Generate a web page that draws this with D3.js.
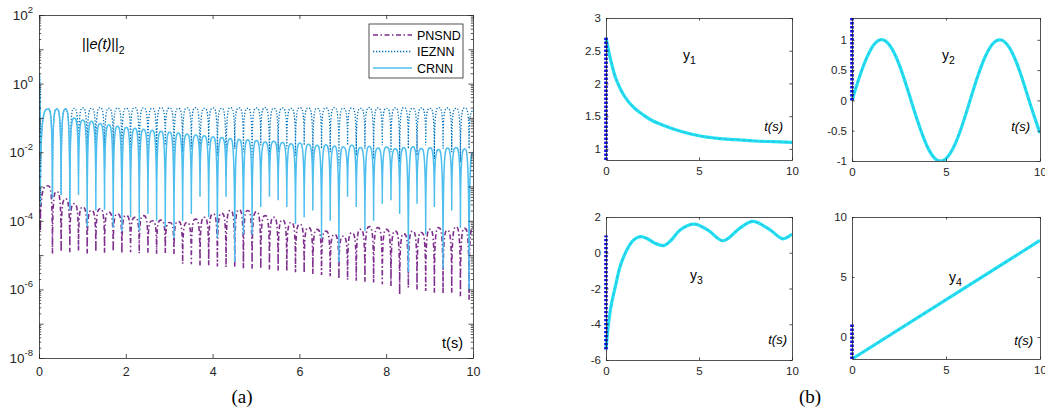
<!DOCTYPE html>
<html>
<head>
<meta charset="utf-8">
<script src="https://cdn.jsdelivr.net/npm/d3@7"></script>
<style>
  body { margin: 0; background: #fff; }
  svg { display: block; font-family: "Liberation Sans", Arial, sans-serif; }
</style>
</head>
<body>
<script>
/* ---------- panel (a) data: log10 of ||e(t)||_2 ---------- */
// each curve is a run of arches: dips at troughT, tops at peakT
const troughT = [0.03, 0.31, 0.51, 0.71, 0.91, 1.11, 1.31, 1.51, 1.71, 1.91,
  2.11, 2.31, 2.51, 2.71, 2.91, 3.11, 3.31, 3.51, 3.71, 3.91,
  4.11, 4.31, 4.51, 4.71, 4.91, 5.11, 5.31, 5.51, 5.71, 5.91,
  6.11, 6.31, 6.51, 6.71, 6.91, 7.11, 7.31, 7.51, 7.71, 7.91,
  8.11, 8.31, 8.51, 8.71, 8.91, 9.11, 9.31, 9.51, 9.71, 9.91];
const peakT = [0.21, 0.41, 0.61, 0.81, 1.01, 1.21, 1.41, 1.61, 1.81,
  2.01, 2.21, 2.41, 2.61, 2.81, 3.01, 3.21, 3.41, 3.61, 3.81,
  4.01, 4.21, 4.41, 4.61, 4.81, 5.01, 5.21, 5.41, 5.61, 5.81,
  6.01, 6.21, 6.41, 6.61, 6.81, 7.01, 7.21, 7.41, 7.61, 7.81,
  8.01, 8.21, 8.41, 8.61, 8.81, 9.01, 9.21, 9.41, 9.61, 9.81];

const pnsndStart = -0.3, pnsndEnd = -4.2;
const pnsndPeak = [-2.98, -3.15, -3.36, -3.50, -3.60, -3.70, -3.65, -3.75, -3.80,
  -3.85, -3.90, -3.85, -4.00, -3.98, -4.05, -4.02, -4.05, -3.95, -3.90,
  -3.80, -3.78, -3.70, -3.68, -3.70, -3.74, -3.85, -3.90, -3.98, -4.05,
  -4.10, -4.20, -4.25, -4.30, -4.40, -4.45, -4.35, -4.25, -4.17, -4.20,
  -4.25, -4.30, -4.38, -4.30, -4.34, -4.25, -4.20, -4.28, -4.18, -4.22];
const pnsndTrough = [-4.30, -4.95, -4.90, -4.92, -4.88, -4.95, -4.90, -4.93, -4.90, -4.95,
  -4.92, -4.95, -4.93, -4.96, -4.94, -4.97, -5.25, -5.27, -5.30, -5.30,
  -5.33, -5.35, -5.35, -5.38, -5.40, -5.40, -5.42, -5.45, -5.47, -5.50,
  -5.52, -5.55, -5.58, -5.62, -5.70, -5.72, -5.75, -5.78, -5.80, -5.85,
  -5.90, -6.15, -5.95, -6.00, -6.05, -6.10, -6.12, -6.10, -6.20, -6.30];

const iezStart = 0.3, iezEnd = -0.8;
const iezPeak = [-0.74, -0.74, -0.74, -0.72, -0.71, -0.72, -0.70, -0.72, -0.71,
  -0.72, -0.70, -0.71, -0.72, -0.70, -0.71, -0.72, -0.71, -0.70, -0.72,
  -0.71, -0.72, -0.70, -0.71, -0.72, -0.71, -0.70, -0.72, -0.71, -0.72,
  -0.70, -0.71, -0.72, -0.71, -0.70, -0.72, -0.71, -0.72, -0.70, -0.71,
  -0.72, -0.71, -0.70, -0.72, -0.71, -0.72, -0.70, -0.71, -0.72, -0.71];
const iezTrough = [-3.55, -3.34, -3.25, -3.68, -2.6, -2.4, -2.2, -2.5, -2.1, -2.3,
  -1.9, -2.4, -2.0, -2.2, -1.8, -2.3, -2.0, -1.9, -2.6, -1.8,
  -2.1, -2.7, -1.9, -2.0, -2.2, -1.8, -2.5, -2.0, -1.9, -2.1,
  -1.8, -2.3, -1.9, -2.0, -2.4, -1.8, -2.1, -1.9, -2.2, -1.8,
  -2.0, -2.3, -1.9, -2.1, -1.8, -2.2, -1.9, -2.0, -2.3, -1.9];

const crnnStart = 0.3, crnnEnd = -2.0;
const crnnPeak = [-0.74, -0.74, -0.74, -1.00, -1.06, -1.10, -1.16, -1.20, -1.24,
  -1.27, -1.30, -1.33, -1.36, -1.39, -1.41, -1.44, -1.47, -1.50, -1.52,
  -1.55, -1.57, -1.60, -1.62, -1.64, -1.66, -1.70, -1.68, -1.72, -1.75,
  -1.73, -1.77, -1.80, -1.78, -1.82, -1.84, -1.80, -1.86, -1.83, -1.88,
  -1.85, -1.90, -1.86, -1.84, -1.89, -1.87, -1.92, -1.88, -1.86, -1.90];
const crnnTrough = [-3.55, -3.34, -3.25, -3.68, -3.25, -4.17, -3.70, -3.68, -4.20, -4.30,
  -3.90, -4.30, -3.80, -4.00, -4.20, -4.50, -4.00, -3.80, -3.30, -3.90,
  -4.50, -3.30, -5.20, -4.40, -4.40, -3.60, -3.30, -3.40, -3.60, -4.10,
  -3.90, -3.70, -4.50, -4.00, -5.20, -3.30, -3.60, -4.30, -4.00, -3.50,
  -3.40, -3.80, -5.50, -3.50, -4.40, -3.60, -5.40, -3.70, -4.20, -6.00];

const aXTicks = [0, 2, 4, 6, 8, 10];
const aYExp = [-8, -6, -4, -2, 0, 2];
const legendNames = ["PNSND", "IEZNN", "CRNN"];

/* ---------- panel (b) data ---------- */
const y1T = [0, 0.25, 0.5, 0.75, 1, 1.5, 2, 2.5, 3, 4, 5, 6, 7, 8, 9, 10];
const y1V = [2.70, 2.36, 2.10, 1.93, 1.80, 1.63, 1.52, 1.43, 1.37, 1.27, 1.20, 1.16, 1.14, 1.12, 1.11, 1.10];
const y2T = [0, 0.5, 1, 1.5, 2, 2.5, 3, 3.5, 4, 4.5, 5, 5.5, 6, 6.5, 7, 7.5, 8, 8.5, 9, 9.5, 10];
const y2V = [0, 0.48, 0.84, 1.0, 0.91, 0.60, 0.14, -0.35, -0.76, -0.98, -0.96, -0.71, -0.28, 0.22, 0.66, 0.94, 0.99, 0.80, 0.41, -0.08, -0.54];
const y3T = [0, 0.1, 0.25, 0.5, 0.75, 1, 1.25, 1.5, 1.85, 2.2, 2.6, 3.1, 3.5, 4.0, 4.75, 5.5, 6.3, 7.2, 7.9, 8.8, 9.5, 10];
const y3V = [-5.4, -4.3, -3.1, -1.9, -0.8, -0.1, 0.4, 0.73, 0.9, 0.8, 0.55, 0.4, 0.7, 1.29, 1.6, 1.25, 0.67, 1.38, 1.75, 1.3, 0.78, 1.05];
const y4T = [0, 10];
const y4V = [-1.83, 8.05];
// near-vertical fast transient at t = 0 (start / end values)
const y1Jump = [0.83, 2.70];
const y2Jump = [0, 1.40];
const y3Jump = [-5.40, 0.97];
const y4Jump = [-1.83, 1.10];
const bXTicks = [0, 5, 10];

const ink = "#262626";

// arches: steep into a dip, rounded over a top (like log|sin|)
function archCurve(context) {
  let x0, y0, n;
  return {
    areaStart() {}, areaEnd() {},
    lineStart() { n = 0; },
    lineEnd() {},
    point(x, y) {
      x = +x; y = +y;
      if (n++ === 0) context.moveTo(x, y);
      else {
        const dx = x - x0;
        if (y > y0) context.bezierCurveTo(x0 + dx * 0.5, y0, x, y0, x, y);
        else context.bezierCurveTo(x0, y, x - dx * 0.5, y, x, y);
      }
      x0 = x; y0 = y;
    }
  };
}

function arches(start, troughs, peaks, end) {
  const pts = [[0, start]];
  troughs.forEach((v, i) => {
    pts.push([troughT[i], v]);
    if (i < peaks.length) pts.push([peakT[i], peaks[i]]);
  });
  pts.push([10, end]);
  return pts;
}

function styleAxis(g, size) {
  g.attr("font-size", size).attr("font-family", null);
  g.selectAll("path, line").attr("stroke", ink).attr("stroke-width", 0.8);
  g.selectAll("text").attr("fill", ink);
}

const svg = d3.select("body").append("svg").attr("width", 1045).attr("height", 410);

/* ================= panel (a) ================= */
const a = { left: 39, right: 473, top: 15, bottom: 358 };
const xA = d3.scaleLinear().domain([0, 10]).range([a.left, a.right]);
const yA = d3.scaleLog().domain([1e-8, 1e2]).range([a.bottom, a.top]);

svg.append("clipPath").attr("id", "clipA").append("rect")
  .attr("x", a.left).attr("y", a.top).attr("width", a.right - a.left).attr("height", a.bottom - a.top);

const lineA = d3.line().x(d => xA(d[0])).y(d => yA(Math.pow(10, d[1]))).curve(archCurve);

const seriesA = [
  { pts: arches(pnsndStart, pnsndTrough, pnsndPeak, pnsndEnd), color: "#7E2F8E", w: 1.6, dash: "5,2.5,1.5,2.5" },
  { pts: arches(iezStart, iezTrough, iezPeak, iezEnd), color: "#0072BD", w: 1.3, dash: "1.3,1.7" },
  { pts: arches(crnnStart, crnnTrough, crnnPeak, crnnEnd), color: "#4DBEEE", w: 1.5, dash: null }
];

const gA = svg.append("g").attr("clip-path", "url(#clipA)");
seriesA.forEach(s => {
  gA.append("path").datum(s.pts)
    .attr("d", lineA)
    .attr("fill", "none")
    .attr("stroke", s.color)
    .attr("stroke-width", s.w)
    .attr("stroke-dasharray", s.dash);
});

// axes, ticks inside
const minorA = yA.ticks(100).filter(v => Math.abs(Math.log10(v) % 1) > 1e-6);
const decades = aYExp.concat([-7, -5, -3, -1, 1]).map(e => Math.pow(10, e));

svg.append("g").attr("transform", `translate(0,${a.bottom})`)
  .call(d3.axisBottom(xA).tickValues(aXTicks).tickSize(-4).tickSizeOuter(0).tickPadding(9))
  .call(g => styleAxis(g, 12.5));
svg.append("g").attr("transform", `translate(0,${a.top})`)
  .call(d3.axisTop(xA).tickValues(aXTicks).tickSize(-4).tickSizeOuter(0).tickFormat(""))
  .call(g => styleAxis(g, 12));
[["axisLeft", a.left], ["axisRight", a.right]].forEach(([fn, x0]) => {
  svg.append("g").attr("transform", `translate(${x0},0)`)
    .call(d3[fn](yA).tickValues(decades).tickSize(-4.5).tickSizeOuter(0).tickFormat(""))
    .call(g => styleAxis(g, 12));
  svg.append("g").attr("transform", `translate(${x0},0)`)
    .call(d3[fn](yA).tickValues(minorA).tickSize(-2.2).tickSizeOuter(0).tickFormat(""))
    .call(g => styleAxis(g, 12))
    .call(g => g.select(".domain").remove());
});

// 10^k labels
svg.selectAll(".ylabA").data(aYExp).join("text")
  .attr("class", "ylabA")
  .attr("x", a.left - 6)
  .attr("y", d => yA(Math.pow(10, d)) + 5)
  .attr("text-anchor", "end")
  .attr("font-size", 13.5)
  .attr("fill", ink)
  .each(function (d) {
    const t = d3.select(this);
    t.append("tspan").text("10");
    t.append("tspan").attr("dy", -7).attr("font-size", 9.5).text(d);
  });

// ||e(t)||_2
const eLab = svg.append("text").attr("x", 82).attr("y", 49).attr("font-size", 14.5).attr("fill", "#000");
eLab.append("tspan").text("||");
eLab.append("tspan").attr("font-style", "italic").text("e(t)");
eLab.append("tspan").text("||");
eLab.append("tspan").attr("dy", 5).attr("font-size", 10.5).text("2");

svg.append("text").attr("x", 463).attr("y", 348).attr("text-anchor", "end")
  .attr("font-size", 14.5).attr("fill", "#000").text("t(s)");

// legend
const leg = svg.append("g").attr("transform", "translate(369,24)");
leg.append("rect").attr("width", 94).attr("height", 54)
  .attr("fill", "#fff").attr("stroke", ink).attr("stroke-width", 0.8);
legendNames.forEach((name, i) => {
  const s = seriesA[i];
  const yy = 11 + i * 16.5;
  leg.append("line").attr("x1", 4).attr("x2", 43).attr("y1", yy).attr("y2", yy)
    .attr("stroke", s.color).attr("stroke-width", s.w).attr("stroke-dasharray", s.dash);
  leg.append("text").attr("x", 48).attr("y", yy + 4.5).attr("font-size", 12.5)
    .attr("fill", "#000").text(name);
});

svg.append("text").attr("x", 242).attr("y", 403).attr("text-anchor", "middle")
  .attr("font-family", "Liberation Serif, Times New Roman, serif").attr("font-size", 19)
  .attr("fill", "#000").text("(a)");

/* ================= panel (b) ================= */
const panels = [
  { box: { left: 606, right: 792, top: 18, bottom: 160 }, dom: [0.83, 3], ticks: [1, 1.5, 2, 2.5, 3],
    t: y1T, v: y1V, jump: y1Jump, sub: "1", lab: [683, 60], ts: [783, 131], curve: d3.curveMonotoneX },
  { box: { left: 852, right: 1040, top: 18, bottom: 161 }, dom: [-1, 1.36], ticks: [-1, -0.5, 0, 0.5, 1],
    t: y2T, v: y2V, jump: y2Jump, sub: "2", lab: [942, 60], ts: [1030, 131], curve: d3.curveNatural },
  { box: { left: 606, right: 792, top: 217, bottom: 360 }, dom: [-6, 2], ticks: [-6, -4, -2, 0, 2],
    t: y3T, v: y3V, jump: y3Jump, sub: "3", lab: [690, 280], ts: [787, 344], curve: d3.curveCatmullRom },
  { box: { left: 852, right: 1040, top: 217, bottom: 359 }, dom: [-1.83, 10], ticks: [0, 5, 10],
    t: y4T, v: y4V, jump: y4Jump, sub: "4", lab: [949, 282], ts: [1033, 345], curve: d3.curveLinear }
];

panels.forEach((p, k) => {
  const b = p.box;
  const x = d3.scaleLinear().domain([0, 10]).range([b.left, b.right]);
  const y = d3.scaleLinear().domain(p.dom).range([b.bottom, b.top]);

  svg.append("clipPath").attr("id", "clipB" + k).append("rect")
    .attr("x", b.left - 2).attr("y", b.top).attr("width", b.right - b.left + 2).attr("height", b.bottom - b.top);
  const g = svg.append("g").attr("clip-path", `url(#clipB${k})`);

  const pts = p.t.map((t, i) => [t, p.v[i]]);
  const line = d3.line().x(d => x(d[0])).y(d => y(d[1])).curve(p.curve);

  g.append("path").datum(pts).attr("d", line)
    .attr("fill", "none").attr("stroke", "#1FE2F2").attr("stroke-width", 3.2);
  g.append("path").datum(pts).attr("d", line)
    .attr("fill", "none").attr("stroke", "#3FAFD9").attr("stroke-width", 1)
    .attr("stroke-dasharray", "3,3");
  g.append("line")
    .attr("x1", x(0)).attr("x2", x(0))
    .attr("y1", y(p.jump[0])).attr("y2", y(p.jump[1]))
    .attr("stroke", "#0A0AF0").attr("stroke-width", 3.6).attr("stroke-dasharray", "2.4,1.6");

  svg.append("g").attr("transform", `translate(0,${b.bottom})`)
    .call(d3.axisBottom(x).tickValues(bXTicks).tickSize(-2.5).tickSizeOuter(0).tickPadding(7))
    .call(g => styleAxis(g, 11.5));
  svg.append("g").attr("transform", `translate(0,${b.top})`)
    .call(d3.axisTop(x).tickValues(bXTicks).tickSize(-2.5).tickSizeOuter(0).tickFormat(""))
    .call(g => styleAxis(g, 11.5));
  svg.append("g").attr("transform", `translate(${b.left},0)`)
    .call(d3.axisLeft(y).tickValues(p.ticks).tickSize(-2.5).tickSizeOuter(0).tickPadding(5)
      .tickFormat(d => String(d)))
    .call(g => styleAxis(g, 11.5));
  svg.append("g").attr("transform", `translate(${b.right},0)`)
    .call(d3.axisRight(y).tickValues(p.ticks).tickSize(-2.5).tickSizeOuter(0).tickFormat(""))
    .call(g => styleAxis(g, 11.5));

  const yl = svg.append("text").attr("x", p.lab[0]).attr("y", p.lab[1])
    .attr("font-size", 14).attr("fill", "#000");
  yl.append("tspan").text("y");
  yl.append("tspan").attr("dy", 4).attr("font-size", 10.5).text(p.sub);

  svg.append("text").attr("x", p.ts[0]).attr("y", p.ts[1]).attr("text-anchor", "end")
    .attr("font-size", 13).attr("font-style", "italic").attr("fill", "#000").text("t(s)");
});

svg.append("text").attr("x", 810).attr("y", 403).attr("text-anchor", "middle")
  .attr("font-family", "Liberation Serif, Times New Roman, serif").attr("font-size", 19)
  .attr("fill", "#000").text("(b)");
</script>
</body>
</html>
